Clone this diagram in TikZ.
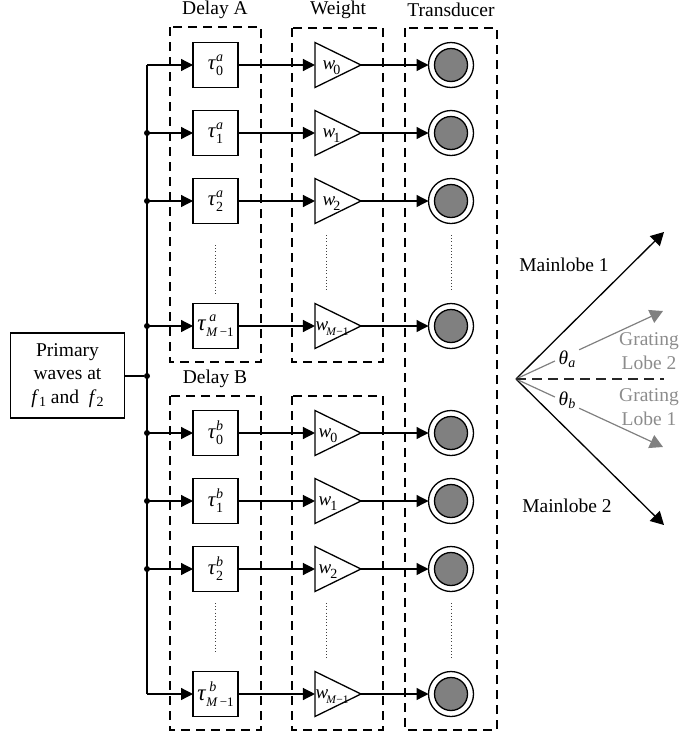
\documentclass[tikz,border=0pt]{standalone}
\usepackage{fontspec}
\setmainfont{Liberation Serif}
\usetikzlibrary{arrows.meta,shapes.geometric,calc}
\newcommand{\lbl}{\fontsize{19.5}{23.5}\selectfont}
\newcommand{\tauab}[2]{{\fontsize{21}{21}\selectfont\textit{τ}}\rlap{\raisebox{8pt}{\fontsize{14}{14}\selectfont\textit{#1}}}\raisebox{-6pt}{\fontsize{14}{14}\selectfont #2}}
\newcommand{\taum}[1]{{\fontsize{23}{23}\selectfont\textit{τ}}\rlap{\raisebox{9pt}{\hspace{3pt}\fontsize{14}{14}\selectfont\textit{#1}}}\raisebox{-6pt}{\fontsize{13}{13}\selectfont\textit{M}\,−1}}
\newcommand{\wsub}[2][-1pt]{{\fontsize{19}{19}\selectfont\textit{w}}\hspace{#1}\raisebox{-5pt}{\fontsize{14}{14}\selectfont #2}}
\newcommand{\wm}{{\fontsize{19}{19}\selectfont\textit{w}}\hspace{-2pt}\raisebox{-5pt}{\fontsize{11.5}{12}\selectfont\textit{M}−1}}
\begin{document}
\begin{tikzpicture}[x=1pt,y=-1pt,line width=1.3pt,
  delaybox/.style={draw,minimum width=45,minimum height=45,inner sep=0,outer sep=0},
  amp/.style={draw,isosceles triangle,isosceles triangle stretches,minimum width=45,minimum height=46,inner sep=0,outer sep=0},
  ampl/.style={inner sep=0,anchor=west},
  outerc/.style={draw,circle,minimum size=45,inner sep=0,outer sep=0},
  innerc/.style={draw,circle,fill=black!50,minimum size=33,inner sep=0,outer sep=0},
  jn/.style={circle,fill=black,minimum size=6,inner sep=0,outer sep=0},
  grp/.style={draw,dash pattern=on 9pt off 6pt,line width=1.3pt},
  vdots/.style={line width=.9pt,dash pattern=on 1pt off 2.2pt,black!75},
  conn/.style={-{Triangle[length=12pt,width=12pt]}},
  txt/.style={inner sep=0,font=\lbl,align=center},
  gtxt/.style={txt,text=black!45},
  lobe/.style={-{Triangle[length=13pt,width=14pt]},line width=1.3pt}]
\useasboundingbox (0,0) rectangle (681,737);
% dashed groups
\draw[grp] (170,27) rectangle (261,362);
\draw[grp] (292,28) rectangle (383,362);
\draw[grp] (405,28) rectangle (497,730);
\draw[grp] (170,396) rectangle (261,730);
\draw[grp] (292,396) rectangle (383,730);
% titles
\node[txt] (tA) at (215,10) {Delay A};
\node[txt] (tW) at (338,10) {Weight};
\node[txt] (tT) at (451,10) {Transducer};
\node[txt] (tB) at (215,379) {Delay B};
% primary
\node[draw,txt,minimum width=114,minimum height=85,inner sep=0,outer sep=0] (prim) at (67.5,375.5) {Primary\\waves at\\\textit{f}{\fontsize{14}{14}\selectfont\raisebox{-3pt}{1}} and \ \textit{f}{\fontsize{14}{14}\selectfont\raisebox{-3pt}{2}}};
% bus
\coordinate (bt) at (147,65);
\coordinate (bb) at (147,694);
\draw (bt) -- (bb);
\node[jn] (jp) at (147,376) {};
\draw (prim.east |- jp) -- (jp);
% rows
\foreach \n/\y/\lx/\dl/\wl in {
  a0/65/322/{\tauab{a}{0}}/{\wsub[-2pt]{0}},
  a1/133/322/{\tauab{a}{1}}/{\wsub[-2pt]{1}},
  a2/201/322/{\tauab{a}{2}}/{\wsub[-2pt]{2}},
  am/326/315/{\taum{a}}/{\wm},
  b0/433/318/{\tauab{b}{0}}/{\wsub{0}},
  b1/501/318/{\tauab{b}{1}}/{\wsub{1}},
  b2/569/318/{\tauab{b}{2}}/{\wsub{2}},
  bm/694/315/{\taum{b}}/{\wm}}{
  \node[delaybox] (d\n) at (215.5,\y) {\dl};
  \node[amp] (w\n) at (329,\y) {};
  \node[ampl] (wl\n) at (\lx,\y+3) {\wl};
  \node[outerc] (c\n) at (451,\y) {};
  \node[innerc] (i\n) at (451,\y) {};
  \coordinate (bus\n) at (147,\y);
  \draw[conn] (bus\n) -- (d\n);
  \draw[conn] (d\n) -- (w\n.west |- d\n);
  \draw[conn] (w\n.apex) -- (c\n);
}
\foreach \n/\y in {a1/133,a2/201,am/326,b0/433,b1/501,b2/569}
  \node[jn] (j\n) at (147,\y) {};
% dotted continuation
\foreach \x/\a/\b in {215/245/295,326/235/290,451/235/290,215/603/653,326/603/658,451/603/658}
  \draw[vdots] (\x,\a) -- (\x,\b);
% beam diagram
\coordinate (o) at (516,379);
\coordinate (m1) at (664,232);
\coordinate (m2) at (664,525);
\coordinate (g2) at (663,311);
\coordinate (g1) at (663,447);
\coordinate (de) at (664,379);
\draw[lobe] (o) -- (m1);
\draw[lobe] (o) -- (m2);
\draw[black!50,line width=1.2pt] (o) -- ($(o)!.265!(g2)$);
\draw[lobe,black!50,line width=1.2pt] ($(o)!.43!(g2)$) -- (g2);
\draw[black!50,line width=1.2pt] (o) -- ($(o)!.265!(g1)$);
\draw[lobe,black!50,line width=1.2pt] ($(o)!.43!(g1)$) -- (g1);
\draw[dash pattern=on 10pt off 6pt,line width=1.2pt,black!85] (o) -- (de);
\node[txt] (m1l) at (564,265) {Mainlobe 1};
\node[txt] (m2l) at (567,506) {Mainlobe 2};
\node[gtxt] (g2l) at (649,351) {Grating\\Lobe 2};
\node[gtxt] (g1l) at (649,407) {Grating\\Lobe 1};
\node[txt] (tha) at (567,359) {\textit{θ}\raisebox{-3pt}{\fontsize{14}{14}\selectfont\textit{a}}};
\node[txt] (thb) at (567,400) {\textit{θ}\raisebox{-3pt}{\fontsize{14}{14}\selectfont\textit{b}}};
\end{tikzpicture}
\end{document}
